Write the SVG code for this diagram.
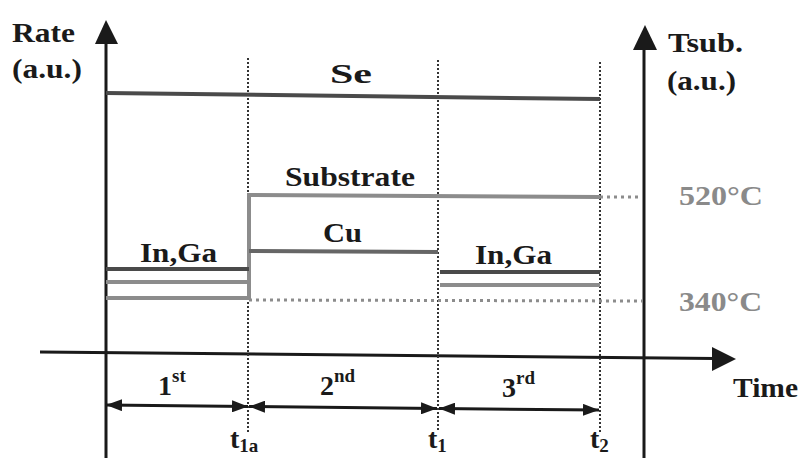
<svg xmlns="http://www.w3.org/2000/svg" width="808" height="458" viewBox="0 0 808 458">
<style>
  text { font-family: 'Liberation Serif', Times, serif; font-weight: 700; fill: #1a1a1a; font-size: 28px; }
  .gray { fill: #8a8a8a; }
  .axis { stroke: #1a1a1a; stroke-width: 3; fill: none; }
  .dark { stroke: #4a4a4a; stroke-width: 4; fill: none; }
  .mid { stroke: #666; stroke-width: 4; fill: none; }
  .light { stroke: #8c8c8c; stroke-width: 4; fill: none; }
  .vdot { stroke: #333; stroke-width: 2; stroke-dasharray: 2 2; fill: none; }
  .hdot { stroke: #8c8c8c; stroke-width: 3; stroke-dasharray: 3 4; fill: none; }
  .dim { stroke: #1a1a1a; stroke-width: 3; fill: none; marker-start: url(#ah); marker-end: url(#ah); }
  .head { fill: #1a1a1a; }
</style>
<defs>
  <marker id="ah" viewBox="0 0 16 12" refX="16" refY="6" markerWidth="16" markerHeight="12" markerUnits="userSpaceOnUse" orient="auto-start-reverse">
    <path d="M0,0 L16,6 L0,12 Z" fill="#1a1a1a"/>
  </marker>
</defs>
<rect width="808" height="458" fill="#ffffff"/>

<g id="axes">
  <line class="axis" x1="106" y1="40" x2="106" y2="458"/>
  <polygon class="head" points="106,20 95,44 118,44"/>
  <line class="axis" x1="644" y1="45" x2="644" y2="458"/>
  <polygon class="head" points="645,25 633,50 657,50"/>
  <line class="axis" x1="40" y1="352" x2="715" y2="358.5"/>
  <polygon class="head" points="736,359 712,347 712,371"/>
</g>

<g id="guides">
  <line class="vdot" x1="248" y1="58" x2="248" y2="432"/>
  <line class="vdot" x1="438" y1="60" x2="438" y2="432"/>
  <line class="vdot" x1="600" y1="62" x2="600" y2="432"/>
  <line class="hdot" x1="600" y1="197" x2="642" y2="197"/>
  <line class="hdot" x1="249" y1="300" x2="642" y2="301"/>
</g>

<g id="connectors">
  <line id="se-line" class="dark" x1="106" y1="93" x2="600" y2="99"/>
  <polyline id="substrate-line" class="light" points="106,298 249,298 249,195 600,197"/>
  <line id="in-1" class="dark" x1="106" y1="269" x2="249" y2="269"/>
  <line id="ga-1" class="light" x1="106" y1="282" x2="249" y2="282"/>
  <line id="cu-line" class="mid" x1="249" y1="251" x2="438" y2="252"/>
  <line id="in-3" class="dark" x1="440" y1="272" x2="600" y2="272"/>
  <line id="ga-3" class="light" x1="440" y1="285" x2="600" y2="285"/>
  <line id="dim-1" class="dim" x1="106" y1="405" x2="248" y2="406.5"/>
  <line id="dim-2" class="dim" x1="249" y1="406.5" x2="437" y2="408.5"/>
  <line id="dim-3" class="dim" x1="439" y1="408.5" x2="599" y2="410"/>
</g>

<g id="labels">
  <text x="12" y="42" textLength="63" lengthAdjust="spacingAndGlyphs">Rate</text>
  <text x="12" y="78" textLength="70" lengthAdjust="spacingAndGlyphs">(a.u.)</text>
  <text x="668" y="52" textLength="75" lengthAdjust="spacingAndGlyphs">Tsub.</text>
  <text x="667" y="90" textLength="69" lengthAdjust="spacingAndGlyphs">(a.u.)</text>
  <text class="gray" x="679" y="205" textLength="84" lengthAdjust="spacingAndGlyphs">520°C</text>
  <text class="gray" x="679" y="311" textLength="83" lengthAdjust="spacingAndGlyphs">340°C</text>
  <text x="733" y="397" textLength="65" lengthAdjust="spacingAndGlyphs">Time</text>
  <text x="330" y="83" textLength="42" lengthAdjust="spacingAndGlyphs">Se</text>
  <text x="285" y="186" textLength="130" lengthAdjust="spacingAndGlyphs">Substrate</text>
  <text x="323" y="242" textLength="39" lengthAdjust="spacingAndGlyphs">Cu</text>
  <text x="140" y="262" textLength="77" lengthAdjust="spacingAndGlyphs">In,Ga</text>
  <text x="475" y="264" textLength="77" lengthAdjust="spacingAndGlyphs">In,Ga</text>
  <text x="158" y="395">1<tspan font-size="19" dy="-13">st</tspan></text>
  <text x="320" y="395">2<tspan font-size="19" dy="-13">nd</tspan></text>
  <text x="502" y="397">3<tspan font-size="19" dy="-13">rd</tspan></text>
  <text x="230" y="448">t<tspan font-size="19" dy="4">1a</tspan></text>
  <text x="428" y="448">t<tspan font-size="19" dy="4">1</tspan></text>
  <text x="590" y="448">t<tspan font-size="19" dy="4">2</tspan></text>
</g>
</svg>
